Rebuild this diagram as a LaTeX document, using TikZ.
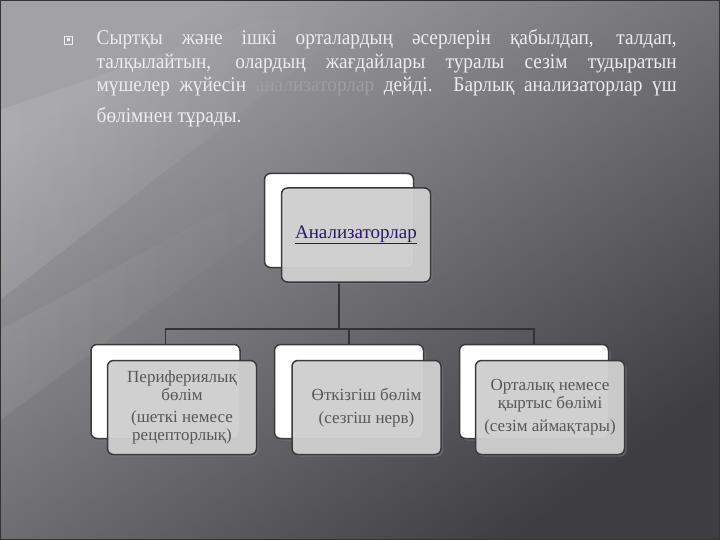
\documentclass[tikz,border=0pt]{standalone}
\usepackage{fontspec}
\usetikzlibrary{shadows,fadings}
\setmainfont{Liberation Serif}
\newfontfamily\parafont[FakeStretch=0.92]{Liberation Serif}
\newfontfamily\boxfont{Liberation Serif}
\definecolor{bgA}{HTML}{A2A2A6}
\definecolor{bgB}{HTML}{3E3E42}
\definecolor{paratext}{HTML}{EDEDED}
\definecolor{hltext}{HTML}{9E9EA2}
\definecolor{boxline}{HTML}{3A3A3C}
\definecolor{frontfill}{HTML}{D2D2D2}
\definecolor{boxtext}{HTML}{575757}
\definecolor{linkblue}{HTML}{2A1866}
\definecolor{connline}{HTML}{333336}
\tikzset{
  backbox/.style={draw=boxline, line width=1.5pt, fill=white, rounded corners=6pt,
    minimum width=149pt, minimum height=94pt, inner sep=0pt,
    drop shadow={opacity=0.5, shadow xshift=2pt, shadow yshift=-2pt}},
  frontbox/.style={draw=boxline, line width=1.5pt, fill=frontfill, fill opacity=0.92, text opacity=1,
    rounded corners=6pt, minimum width=149pt, minimum height=94pt, inner sep=0pt, align=center,
    text=boxtext, font=\boxfont\fontsize{17}{17.5}\selectfont,
    drop shadow={opacity=0.5, shadow xshift=2pt, shadow yshift=-2pt}},
  conn/.style={draw=connline, line width=1.8pt},
  paraline/.style={anchor=base west, inner sep=0pt, text=paratext, font=\parafont\fontsize{21}{24}\selectfont}
}
\begin{document}
\begin{tikzpicture}[x=1pt, y=-1pt]
\useasboundingbox (0,0) rectangle (720,540);
% background
\shade[top color=bgA, bottom color=bgB, shading angle=35] (0,0) rectangle (720,540);
\fill[white, opacity=0.10, path fading=east] (0,110) -- (0,300) -- (360,20) -- (260,20) -- cycle;
\fill[white, opacity=0.07, path fading=east] (0,330) -- (0,420) -- (300,200) -- (240,200) -- cycle;
\draw[black!80, line width=1pt] (0.5,0.5) rectangle (719.5,539.5);
% bullet
\node[draw=paratext, line width=0.6pt, minimum width=8pt, minimum height=8pt, inner sep=0pt] (bul) at (68.5,40) {};
\node[fill=paratext, minimum width=3pt, minimum height=3pt, inner sep=0pt] (buldot) at (68.5,40) {};
% paragraph
\node[paraline] (l1) at (96.5,45) {\makebox[580pt][s]{Сыртқы және ішкі орталардың әсерлерін қабылдап, талдап,}};
\node[paraline] (l2) at (96.5,68.5) {\makebox[580pt][s]{талқылайтын, олардың жағдайлары туралы сезім тудыратын}};
\node[paraline] (l3) at (96.5,92) {\makebox[580pt][s]{мүшелер жүйесін \textcolor{hltext}{анализаторлар} дейді. Барлық анализаторлар үш}};
\node[paraline] (l4) at (96.5,123) {бөлімнен тұрады.};
% back boxes
\node[backbox] (tb) at (339,220.5) {};
\node[backbox] (lb) at (165.5,391.5) {};
\node[backbox] (mb) at (349,391.5) {};
\node[backbox] (rb) at (534,391.5) {};
% connectors
\coordinate (j) at (339,329);
\draw[conn] (tb.center |- 0,282) -- (tb.center |- j) -| (lb.north);
\draw[conn] (tb.center |- j) -| (mb.north);
\draw[conn] (tb.center |- j) -| (rb.north);
% front boxes
\node[frontbox, text=linkblue, font=\boxfont\fontsize{19}{22}\selectfont] (tf) at (356,235) {\underline{Анализаторлар}};
\node[frontbox] (lf) at (182,407.5) {Перифериялық\\бөлім\\[5pt](шеткі немесе\\рецепторлық)};
\node[frontbox] (mf) at (366.5,407.5) {Өткізгіш бөлім\\[6pt](сезгіш нерв)};
\node[frontbox] (rf) at (550,407.5) {Орталық немесе\\қыртыс бөлімі\\[6pt](сезім аймақтары)};
\end{tikzpicture}
\end{document}
